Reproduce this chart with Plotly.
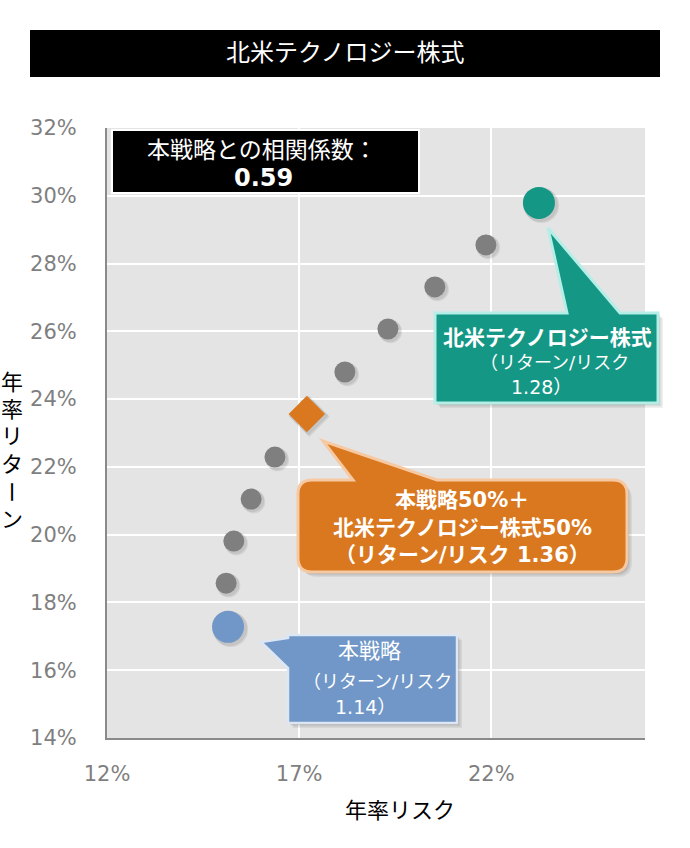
import plotly.graph_objects as go

# ---------------- data ----------------
risk_steps = [15.10, 15.30, 15.75, 16.37, 18.19, 19.31, 20.53, 21.86]
ret_steps = [18.57, 19.81, 21.05, 22.29, 24.80, 26.07, 27.31, 28.55]
strategy_point = (15.15, 17.28)      # 本戦略
mix_point = (17.20, 23.56)           # 本戦略50%＋北米テクノロジー株式50%
tech_point = (23.24, 29.79)          # 北米テクノロジー株式
x_ticks = [12, 17, 22]
y_ticks = [14, 16, 18, 20, 22, 24, 26, 28, 30, 32]

title_text = "北米テクノロジー株式"
corr_label = "本戦略との相関係数："
corr_value = "0.59"
x_title = "年率リスク"
y_title = "年率リターン"

FONT = "DejaVu Sans, Noto Sans CJK JP, sans-serif"
GRAY = "#7f7f7f"
TEAL = "#149785"
ORANGE = "#d9781f"
BLUE = "#7097c7"

W, H = 690, 848
L, R, T, B = 107, 45, 128, 110
PW, PH = W - L - R, H - T - B


def px(x):
    return (x - L) / PW


def py(y):
    return (H - B - y) / PH


def path(points, close=True):
    s = ""
    for i, p in enumerate(points):
        if p[0] == "Q":
            s += f"Q{px(p[1])},{py(p[2])} {px(p[3])},{py(p[4])} "
        else:
            s += ("M" if i == 0 else "L") + f"{px(p[0])},{py(p[1])} "
    return s + ("Z" if close else "")


def shifted(points, dx, dy):
    out = []
    for p in points:
        if p[0] == "Q":
            out.append(("Q", p[1] + dx, p[2] + dy, p[3] + dx, p[4] + dy))
        else:
            out.append((p[0] + dx, p[1] + dy))
    return out


fig = go.Figure()

# soft marker shadows (derived from data)
sx, sy = 0.07, -0.08
for k, alpha in [(1.0, 0.07), (0.6, 0.07)]:
    fig.add_trace(go.Scatter(x=[v + sx * k for v in risk_steps], y=[v + sy * k for v in ret_steps], mode="markers",
                             marker=dict(size=23, color=f"rgba(0,0,0,{alpha})"), hoverinfo="skip", showlegend=False))
    for (xv, yv), sym, sz in [(strategy_point, "circle", 35), (tech_point, "circle", 35), (mix_point, "diamond", 31)]:
        fig.add_trace(go.Scatter(x=[xv + sx * k], y=[yv + sy * k], mode="markers",
                                 marker=dict(size=sz, symbol=sym, color=f"rgba(0,0,0,{alpha})"),
                                 hoverinfo="skip", showlegend=False))

fig.add_trace(go.Scatter(x=risk_steps, y=ret_steps, mode="markers",
                         marker=dict(size=21, color=GRAY), showlegend=False))
fig.add_trace(go.Scatter(x=[strategy_point[0]], y=[strategy_point[1]], mode="markers",
                         marker=dict(size=32, color=BLUE), showlegend=False))
fig.add_trace(go.Scatter(x=[tech_point[0]], y=[tech_point[1]], mode="markers",
                         marker=dict(size=32, color=TEAL), showlegend=False))
fig.add_trace(go.Scatter(x=[mix_point[0]], y=[mix_point[1]], mode="markers",
                         marker=dict(size=28, symbol="diamond", color=ORANGE), showlegend=False))

shapes = []
# title bar
shapes.append(dict(type="rect", xref="paper", yref="paper", x0=px(30), x1=px(660), y0=py(30), y1=py(77),
                   fillcolor="black", line=dict(width=0), layer="above"))
# correlation box
shapes.append(dict(type="rect", xref="paper", yref="paper", x0=px(112), x1=px(419), y0=py(130), y1=py(193),
                   fillcolor="black", line=dict(color="white", width=2), layer="above"))

# teal callout
teal_pts = [(435, 313), (567, 313), (548, 228), (620, 313), (658, 313), (658, 403), (435, 403)]
# orange callout (rounded)
r = 14
ox0, oy0, ox1, oy1 = 298, 480, 627, 572
orange_pts = [(ox0 + r, oy0), (353, oy0), (323, 441), (437, oy0), (ox1 - r, oy0),
              ("Q", ox1, oy0, ox1, oy0 + r), (ox1, oy1 - r), ("Q", ox1, oy1, ox1 - r, oy1),
              (ox0 + r, oy1), ("Q", ox0, oy1, ox0, oy1 - r), (ox0, oy0 + r), ("Q", ox0, oy0, ox0 + r, oy0)]
# blue callout
blue_pts = [(288, 635), (457, 635), (457, 723), (288, 723), (288, 668), (261, 642), (288, 638)]

for pts, fill, edge, lw in [(teal_pts, TEAL, "#b4eee6", 3), (orange_pts, ORANGE, "#f6c9a2", 3),
                            (blue_pts, BLUE, "#dde7f3", 2.5)]:
    for d, a in [(5, 0.06), (3.5, 0.08), (2, 0.1)]:
        shapes.append(dict(type="path", xref="paper", yref="paper", path=path(shifted(pts, d, d)),
                           fillcolor=f"rgba(0,0,0,{a})", line=dict(width=0), layer="above"))
    shapes.append(dict(type="path", xref="paper", yref="paper", path=path(pts),
                       fillcolor=fill, line=dict(color=edge, width=lw), layer="above"))

ann = []


def text(x, y, s, size, color="white", bold=False, angle=0):
    ann.append(dict(xref="paper", yref="paper", x=px(x), y=py(y), text=(f"<b>{s}</b>" if bold else s),
                    showarrow=False, xanchor="center", yanchor="middle", textangle=angle,
                    font=dict(family=FONT, size=size, color=color)))


text(345, 53, title_text, 24)
text(262, 150, corr_label, 23)
text(263, 178, corr_value, 24, bold=True)

text(547, 338, title_text, 21, bold=True)
text(554, 362, "（リターン/リスク", 18)
text(541, 387, "1.28）", 19)

text(462, 500, "本戦略50%＋", 21, bold=True)
text(462, 528, "北米テクノロジー株式50%", 21, bold=True)
text(462, 555, "（リターン/リスク 1.36）", 21, bold=True)

text(369, 651, "本戦略", 21)
text(377, 681, "（リターン/リスク", 18)
text(365, 707, "1.14）", 19)

text(400, 810, x_title, 22, color="black")
for i, ch in enumerate(y_title):
    text(12, 382 + i * 27.5, ch, 22, color="black", angle=(90 if ch == "ー" else 0))

fig.update_layout(
    width=W, height=H, margin=dict(l=L, r=R, t=T, b=B),
    paper_bgcolor="white", plot_bgcolor="#e4e4e4",
    shapes=shapes, annotations=ann, showlegend=False,
    font=dict(family=FONT),
)
fig.update_xaxes(range=[12, 26], tickvals=x_ticks, ticktext=[f"{v}%" for v in x_ticks],
                 showgrid=True, gridcolor="white", gridwidth=2,
                 zeroline=False, showline=True, linecolor="#8a8a8a", linewidth=2, ticks="",
                 tickfont=dict(size=21, color=GRAY, family=FONT), ticklabelstandoff=16)
fig.update_yaxes(range=[14, 32], tickvals=y_ticks, ticktext=[f"{v}%" for v in y_ticks],
                 showgrid=True, gridcolor="white", gridwidth=2,
                 zeroline=False, showline=True, linecolor="#8a8a8a", linewidth=2, ticks="",
                 tickfont=dict(size=21, color=GRAY, family=FONT), ticklabelstandoff=24)

fig.write_html("out.html")
